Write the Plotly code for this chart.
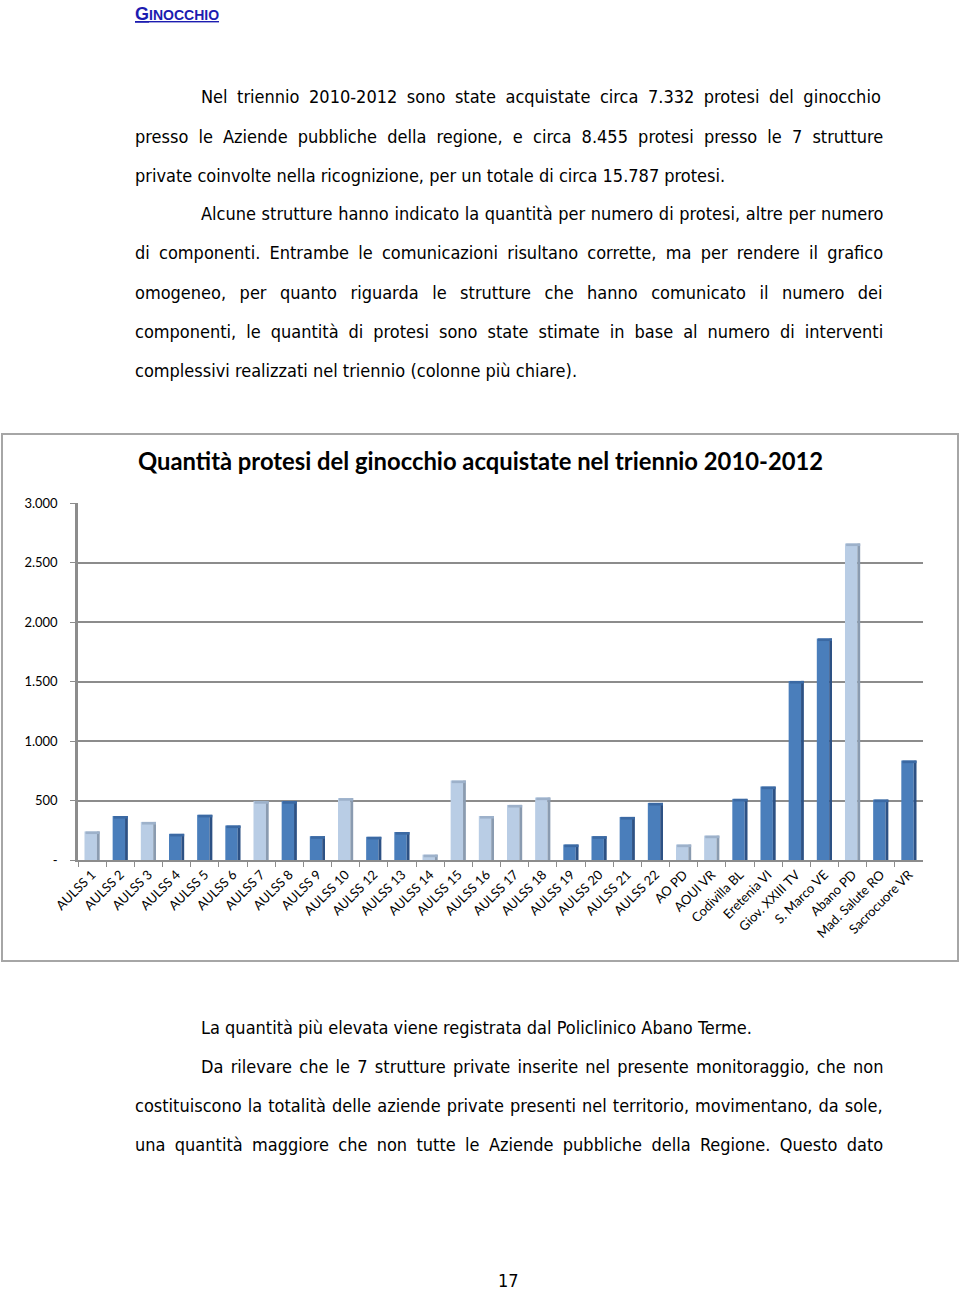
import plotly.graph_objects as go

categories = ["AULSS 1", "AULSS 2", "AULSS 3", "AULSS 4", "AULSS 5", "AULSS 6", "AULSS 7",
              "AULSS 8", "AULSS 9", "AULSS 10", "AULSS 12", "AULSS 13", "AULSS 14", "AULSS 15",
              "AULSS 16", "AULSS 17", "AULSS 18", "AULSS 19", "AULSS 20", "AULSS 21", "AULSS 22",
              "AO PD", "AOUI VR", "Codivilla BL", "Eretenia VI", "Giov. XXIII TV", "S. Marco VE",
              "Abano PD", "Mad. Salute RO", "Sacrocuore VR"]
values = [240, 370, 320, 220, 380, 290, 495, 495, 200, 520, 195, 235, 45, 668, 370,
          463, 525, 130, 200, 362, 480, 130, 205, 514, 617, 1505, 1862, 2660, 508, 836]
# 1 = quantity estimated from number of interventions (lighter columns)
estimated = [1, 0, 1, 0, 0, 0, 1, 0, 0, 1, 0, 0, 1, 1, 1, 1, 1, 0, 0, 0, 0,
             1, 1, 0, 0, 0, 0, 1, 0, 0]
tick_vals = [0, 500, 1000, 1500, 2000, 2500, 3000]
tick_text = ["-", "500", "1.000", "1.500", "2.000", "2.500", "3.000"]

W, H = 960, 1290
BODY = "DejaVu Sans Condensed, Liberation Sans Narrow, sans-serif"
CHART = "Lato, Open Sans, sans-serif"
CAP = 22  # thickness of the pseudo-3D top face, in axis units (styling only)

front_cols = ["#b9cde5" if e else "#4a7ebb" for e in estimated]
side_cols = ["#8a9bb0" if e else "#2d5184" for e in estimated]
cap_cols = ["#9db1ca" if e else "#3b69a3" for e in estimated]

fig = go.Figure()
fig.add_trace(go.Bar(x=categories, y=values, width=0.44, offset=-0.27,
                     marker=dict(color=front_cols, line=dict(width=0)), hoverinfo="x+y"))
fig.add_trace(go.Bar(x=categories, y=values, width=0.1, offset=0.17,
                     marker=dict(color=side_cols, line=dict(width=0)), hoverinfo="skip"))
fig.add_trace(go.Bar(x=categories, y=[CAP] * len(values), base=[v - CAP for v in values],
                     width=0.5, offset=-0.23,
                     marker=dict(color=cap_cols, line=dict(width=0)), hoverinfo="skip"))

x0, x1 = 78, 923
y_top, y_bot = 503, 860

fig.update_layout(
    template="none",
    width=W, height=H, margin=dict(l=0, r=0, t=0, b=0, pad=0, autoexpand=False),
    paper_bgcolor="white", plot_bgcolor="white", showlegend=False, barmode="overlay",
    xaxis=dict(domain=[x0 / W, x1 / W], range=[-0.5, 29.5], type="category",
               tickangle=-45, tickfont=dict(family=CHART, size=13, color="#000"),
               showline=True, linecolor="#8c8c8c", linewidth=2,
               ticks="outside", tickson="boundaries", ticklen=5, tickcolor="#8c8c8c",
               showgrid=False, automargin=False, fixedrange=True),
    yaxis=dict(domain=[1 - y_bot / H, 1 - y_top / H], range=[0, 3000],
               tickvals=tick_vals, ticktext=tick_text,
               tickfont=dict(family=CHART, size=13, color="#000"),
               showline=True, linecolor="#8c8c8c", linewidth=2.5,
               ticks="outside", ticklen=5, tickcolor="#8c8c8c",
               showgrid=True, gridcolor="#8c8c8c", gridwidth=2, zeroline=False,
               ticklabelstandoff=10, automargin=False, fixedrange=True),
)

# chart frame
fig.add_shape(type="rect", xref="paper", yref="paper", x0=2 / W, x1=958 / W,
              y0=1 - 961 / H, y1=1 - 434 / H, line=dict(color="#a6a6a6", width=2), layer="below")


def txt(s, x, y, size=18, anchor="left", family=BODY, color="#000"):
    fig.add_annotation(text=s, x=x / W, y=1 - y / H, xref="paper", yref="paper",
                       xanchor=anchor, yanchor="middle", showarrow=False,
                       font=dict(family=family, size=size, color=color))


txt("<b>Quantità protesi del ginocchio acquistate nel triennio 2010-2012</b>", 480, 461,
    size=23.8, anchor="center", family=CHART)

txt("<u><b>G<span style='font-size:14px'>INOCCHIO</span></b></u>", 133, 14, size=18,
    color="#1c1cb0", family="Liberation Sans, Arial, sans-serif")

# (left x, centre y, text, word spacing used to justify the line)
lines = [
    (199, 97, "Nel triennio 2010-2012 sono state acquistate circa 7.332 protesi del ginocchio", 4.4),
    (133, 136, "presso le Aziende pubbliche della regione, e circa 8.455 protesi presso le 7 strutture", 5.0),
    (133, 175, "private coinvolte nella ricognizione, per un totale di circa 15.787 protesi.", 0),
    (199, 214, "Alcune strutture hanno indicato la quantità per numero di protesi, altre per numero", 0.5),
    (133, 253, "di componenti. Entrambe le comunicazioni risultano corrette, ma per rendere il grafico", 4.1),
    (133, 292, "omogeneo, per quanto riguarda le strutture che hanno comunicato il numero dei", 8.35),
    (133, 331, "componenti, le quantità di protesi sono state stimate in base al numero di interventi", 4.85),
    (133, 370, "complessivi realizzati nel triennio (colonne più chiare).", 0),
    (199, 1027, "La quantità più elevata viene registrata dal Policlinico Abano Terme.", 0),
    (199, 1066, "Da rilevare che le 7 strutture private inserite nel presente monitoraggio, che non", 2.1),
    (133, 1105, "costituiscono la totalità delle aziende private presenti nel territorio, movimentano, da sole,", 0.9),
    (133, 1144, "una quantità maggiore che non tutte le Aziende pubbliche della Regione. Questo dato", 4.2),
]
for x, y, s, ws in lines:
    if ws:
        s = "<span style='word-spacing:%.2fpx'>%s</span>" % (ws, s)
    txt(s, x, y)

txt("17", 509, 1280, size=18, anchor="center")

fig.write_html("out.html")
